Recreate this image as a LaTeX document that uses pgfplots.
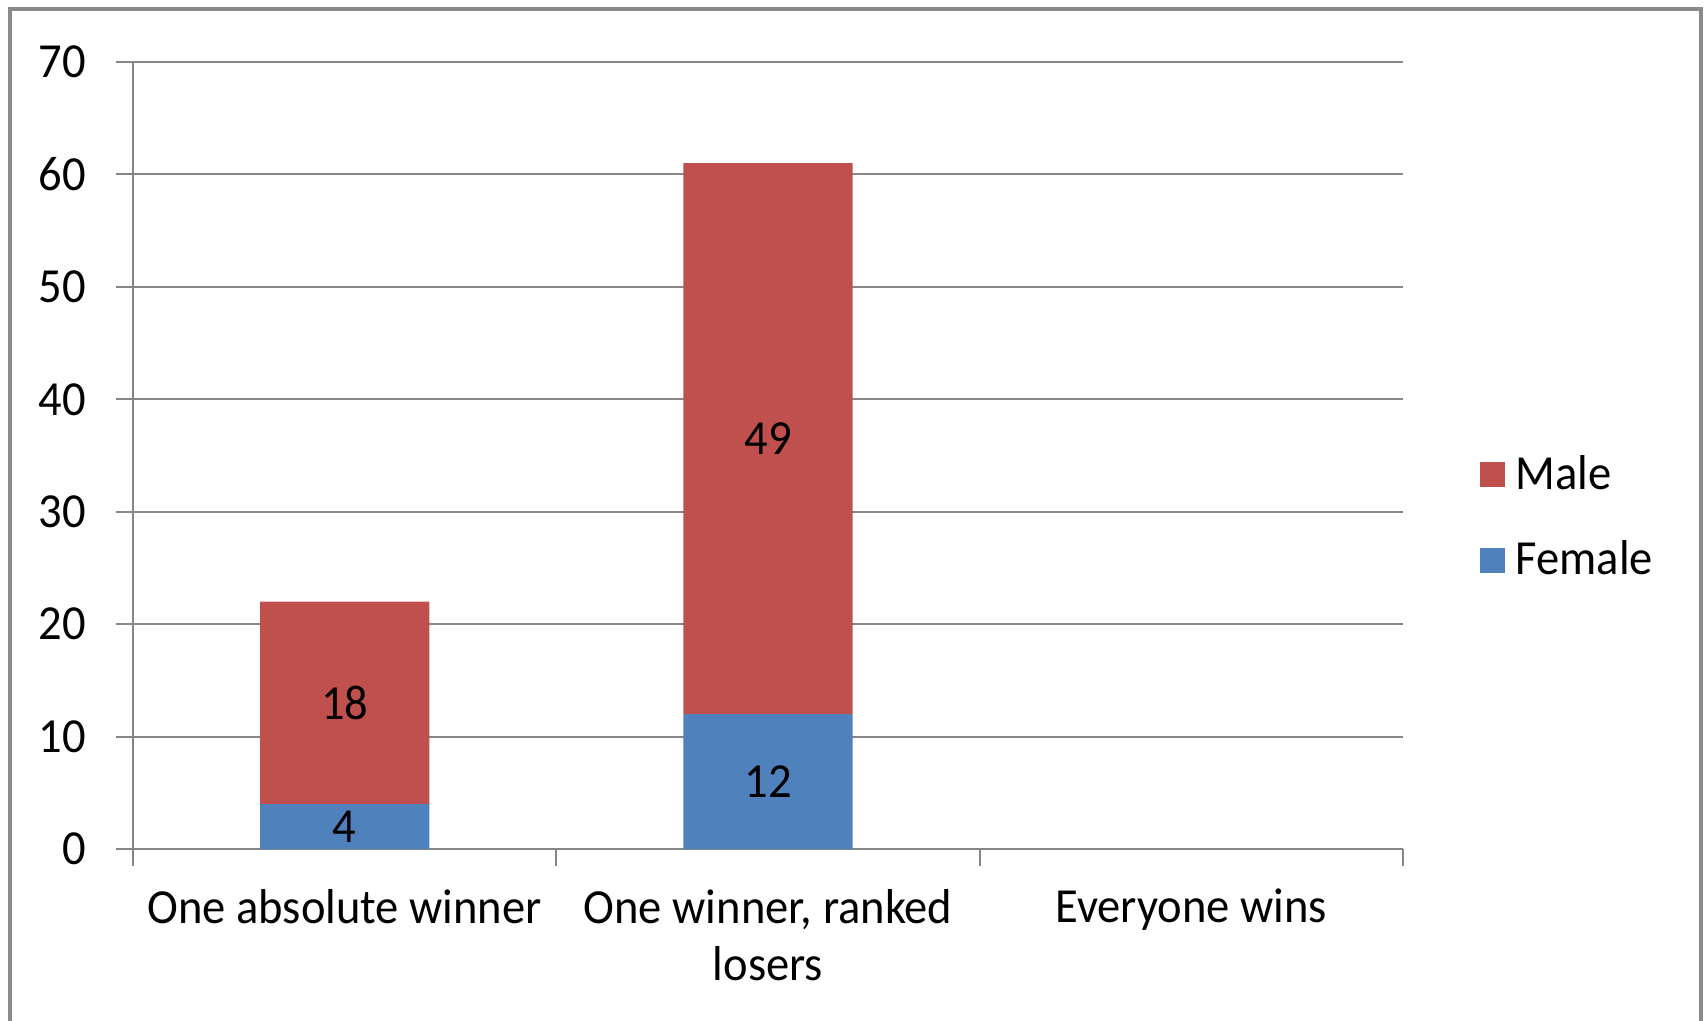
\documentclass[border=0pt]{standalone}
\usepackage{pgfplots}
\pgfplotsset{compat=1.18}
\usepackage{fontspec}
\setmainfont{Carlito}[FakeStretch=0.95]
\definecolor{male}{HTML}{C0504D}
\definecolor{female}{HTML}{4F81BD}
\definecolor{axgray}{HTML}{868686}
\definecolor{framegray}{HTML}{8A8A8A}
\begin{document}
\begin{tikzpicture}
\useasboundingbox (0pt,0pt) rectangle (511.5pt,306pt);
\begin{scope}
\clip (0pt,0pt) rectangle (511.5pt,306pt);
\draw[framegray, line width=1.2pt] (2.85pt,-6pt) rectangle (510.3pt,303.15pt);
\end{scope}
\begin{axis}[
  at={(39.9pt,51.3pt)}, anchor=south west,
  scale only axis, width=381pt, height=236.1pt,
  font=\fontsize{14.7}{17.1}\selectfont,
  ybar stacked, bar width=0.4,
  xmin=0.5, xmax=3.5, ymin=0, ymax=70,
  ytick={0,10,...,70},
  xtick={0.5,1.5,2.5,3.5}, xticklabels={},
  extra x ticks={1,2,3},
  extra x tick labels={One absolute winner, {One winner, ranked\\losers}, Everyone wins},
  extra x tick style={major tick length=0pt, grid=none, tick style={draw=none},
     xticklabel style={align=center, anchor=north, yshift=-8.5pt, text=black}},
  axis x line*=bottom, axis y line*=left,
  axis line style={axgray, line width=0.6pt, -},
  ymajorgrids, grid style={axgray, line width=0.6pt},
  tick style={axgray, line width=0.6pt},
  tick align=outside, major tick length=5.1pt,
  yticklabel style={xshift=-5.5pt, text=black},
  /pgf/number format/assume math mode=true,
  reverse legend,
  legend cell align=left,
  legend style={draw=none, fill=none, at={(1.0598,0.4212)}, anchor=west,
     inner sep=0pt, nodes={inner sep=0pt}, column sep=3.3pt, row sep=14pt,
     font=\fontsize{14.7}{17.1}\selectfont},
]
\addplot[fill=female, draw=none, legend image code/.code={\fill[female] (0pt,-3.75pt) rectangle (7.5pt,3.75pt);}]
  coordinates {(1,4) (2,12)};
\addlegendentry{Female}
\addplot[fill=male, draw=none, legend image code/.code={\fill[male] (0pt,-3.75pt) rectangle (7.5pt,3.75pt);}]
  coordinates {(1,18) (2,49)};
\addlegendentry{Male}
\end{axis}
\begin{axis}[
  at={(39.9pt,51.3pt)}, anchor=south west,
  scale only axis, width=381pt, height=236.1pt,
  xmin=0.5, xmax=3.5, ymin=0, ymax=70, hide axis,
]
\addplot[only marks, mark=none, nodes near coords, point meta=explicit symbolic,
  nodes near coords align={center},
  every node near coord/.append style={anchor=center, text=black, font=\fontsize{14.7}{17.1}\selectfont}]
  coordinates {(1,2) [4] (1,13) [18] (2,6) [12] (2,36.5) [49]};
\end{axis}
\end{tikzpicture}
\end{document}
